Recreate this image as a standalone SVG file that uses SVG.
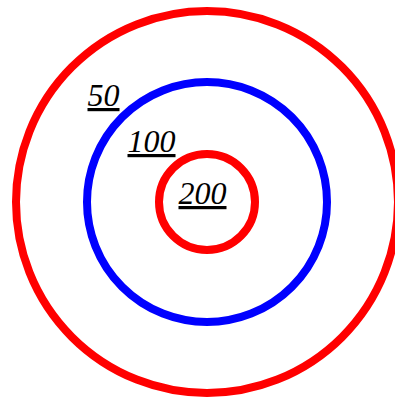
<svg xmlns="http://www.w3.org/2000/svg" width="395" height="398" viewBox="0 0 395 398">
<style>
.ring{fill:none;stroke-width:8}
.lbl{font-family:"Liberation Serif","Times New Roman",serif;font-style:italic;font-size:32px;fill:#000;text-decoration:underline}
</style>
<rect width="395" height="398" fill="#fff"/>
<g id="ring50"><circle class="ring" cx="207" cy="202" r="191" stroke="#ff0000"/></g>
<g id="ring100"><circle class="ring" cx="207" cy="202" r="120" stroke="#0000ff"/></g>
<g id="ring200"><circle class="ring" cx="207" cy="202" r="48" stroke="#ff0000"/></g>
<g id="labels">
<text class="lbl" x="87.5" y="106">50</text>
<text class="lbl" x="127.5" y="152">100</text>
<text class="lbl" x="178.5" y="204">200</text>
</g>
</svg>
